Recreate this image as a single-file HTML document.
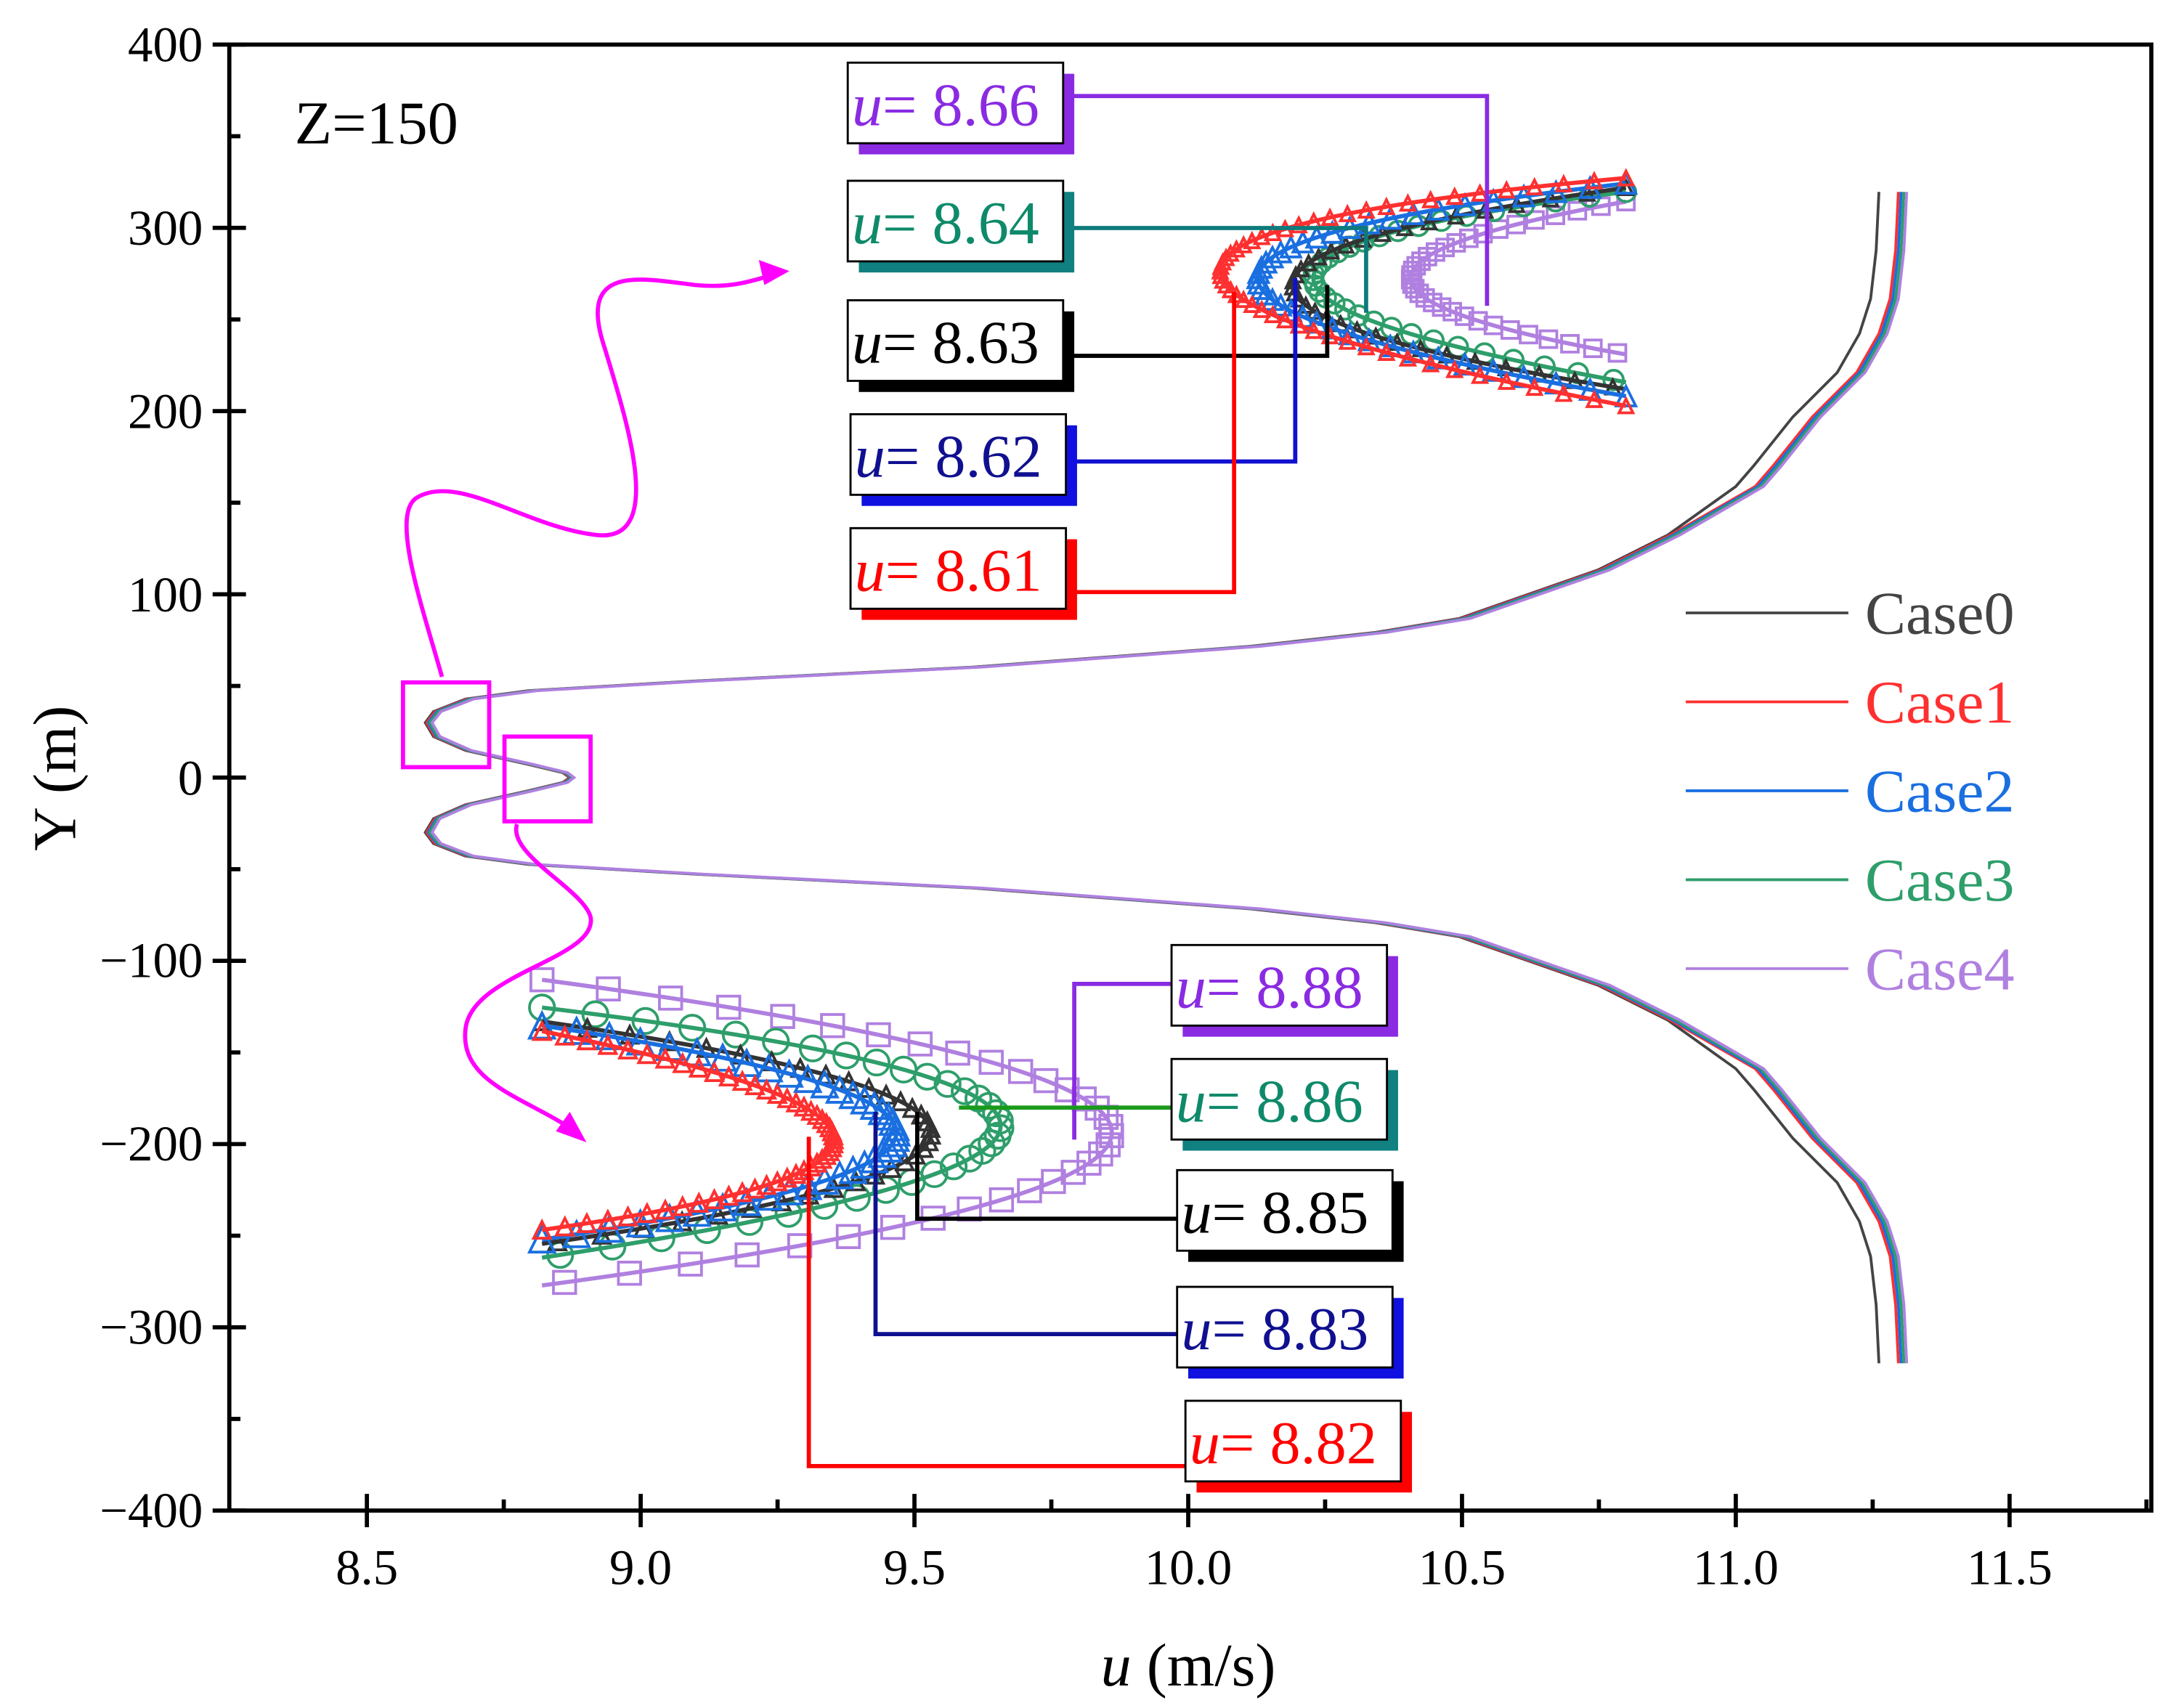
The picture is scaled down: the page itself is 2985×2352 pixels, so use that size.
<!DOCTYPE html>
<html><head><meta charset="utf-8"><style>
html,body{margin:0;padding:0;background:#fff}
svg{display:block}
text{font-family:"Liberation Serif",serif}
</style></head><body>
<svg id="s" width="2985" height="2352" viewBox="0 0 1560 1229" xmlns="http://www.w3.org/2000/svg">
<rect width="1560" height="1229" fill="#fff"/>
<rect x="165" y="32" width="1383" height="1055" fill="none" stroke="#000" stroke-width="3"/>
<g id="ticks" stroke="#000" stroke-width="3"></g>
<g font-size="36" text-anchor="end">
<text x="146" y="44">400</text><text x="146" y="176">300</text><text x="146" y="308">200</text>
<text x="146" y="440">100</text><text x="146" y="572">0</text><text x="146" y="703">−100</text>
<text x="146" y="835">−200</text><text x="146" y="967">−300</text><text x="146" y="1099">−400</text>
</g>
<g font-size="36" text-anchor="middle">
<text x="264" y="1140">8.5</text><text x="461" y="1140">9.0</text><text x="658" y="1140">9.5</text>
<text x="855" y="1140">10.0</text><text x="1052" y="1140">10.5</text><text x="1249" y="1140">11.0</text><text x="1446" y="1140">11.5</text>
</g>
<text x="855" y="1213" font-size="44" text-anchor="middle"><tspan font-style="italic">u</tspan> (m/s)</text>
<text transform="translate(54,560) rotate(-90)" font-size="44" text-anchor="middle">Y (m)</text>
<text x="212" y="103" font-size="44">Z=150</text>

<g id="curves" fill="none" stroke-width="2"></g>
<g id="insets"></g>

<g stroke="#ff00ff" stroke-width="3" fill="none">
<rect x="290" y="491" width="62" height="61"/>
<rect x="363" y="530" width="62" height="61"/>
<path d="M318,487 C305,440 280,370 300,358 C330,340 380,380 430,385 C480,390 450,300 435,250 C415,190 460,200 500,205 C530,208 545,200 560,197"/>
<path d="M372,593 C365,615 420,640 425,660 C430,690 340,700 335,740 C330,780 380,790 415,815"/>
</g>
<path d="M568,195 L546,187 L550,205 Z" fill="#ff00ff"/>
<path d="M422,822 L410,800 L400,814 Z" fill="#ff00ff"/>

<g fill="none" stroke-width="3">
<path d="M765,69 H1070 V220" stroke="#8a2be2"/>
<path d="M765,164 H983 V225" stroke="#0e7b7b"/>
<path d="M765,256 H955 V205" stroke="#000"/>
<path d="M765,332 H932 V200" stroke="#1010d0"/>
<path d="M765,426 H888 V210" stroke="#ff0000"/>
<path d="M843,708 H773 V820" stroke="#8a2be2"/>
<path d="M843,797 H690" stroke="#1a9a1a"/>
<path d="M847,877 H660 V800" stroke="#000"/>
<path d="M847,960 H630 V800" stroke="#101090"/>
<path d="M853,1055 H582 V818" stroke="#ff0000"/>
</g>
<g id="labels"></g>

<g stroke-width="2">
<line x1="1213" y1="441" x2="1330" y2="441" stroke="#444"/>
<line x1="1213" y1="505" x2="1330" y2="505" stroke="#ff3030"/>
<line x1="1213" y1="569" x2="1330" y2="569" stroke="#1a6fe0"/>
<line x1="1213" y1="633" x2="1330" y2="633" stroke="#2e9e6a"/>
<line x1="1213" y1="697" x2="1330" y2="697" stroke="#b080e0"/>
</g>
<g font-size="44">
<text x="1342" y="456" fill="#444">Case0</text>
<text x="1342" y="520" fill="#ff3030">Case1</text>
<text x="1342" y="584" fill="#1a6fe0">Case2</text>
<text x="1342" y="648" fill="#2e9e6a">Case3</text>
<text x="1342" y="712" fill="#b080e0">Case4</text>
</g>
<script>
var NS="http://www.w3.org/2000/svg";
function el(p,t,a){var e=document.createElementNS(NS,t);for(var k in a)e.setAttribute(k,a[k]);p.appendChild(e);return e;}
var T=document.getElementById("ticks");
for(var i=0;i<=16;i++){var y=32+i*1055/16;var maj=i%2==0;el(T,"line",{x1:maj?153:165,y1:y,x2:maj?177:173,y2:y});}
for(var i=0;i<7;i++){var x=264+i*197;el(T,"line",{x1:x,y1:1087,x2:x,y2:1099});el(T,"line",{x1:x,y1:1087,x2:x,y2:1075});
 var xm=x+98.5;if(xm<1548)el(T,"line",{x1:xm,y1:1087,x2:xm,y2:1079});}
var base=[[1352,138],[1350,180],[1346,215],[1338,240],[1322,268],[1290,300],[1262,335],[1249,350],[1200,385],[1150,410],[1050,445],[990,455],[900,465],[700,480],[500,490],[380,497],[335,503],[312,512],[306,520],[312,530],[335,540],[380,550],[405,556],[410,559.5]];
function full(dx,dt){var pts=[];base.forEach(function(p,i){var d=i<8?dt:dx*(1-i/24)+dx*0.3;pts.push([p[0]+d,p[1]]);});
 var out=pts.slice();for(var i=pts.length-2;i>=0;i--)out.push([pts[i][0],1119-pts[i][1]]);return out;}
var C=document.getElementById("curves");
[["#444",0,0],["#ff3030",2,14],["#1a6fe0",4,16],["#2e9e6a",6,18],["#b080e0",9,20]].forEach(function(c){
 var pts=full(c[1],c[2]);el(C,"polyline",{points:pts.map(function(p){return p.join(",")}).join(" "),stroke:c[0]});});
var I=document.getElementById("insets");
function chev(tip,a1,a2,col,mk,sz,sw,step){
 var cx=2*tip[0]-(a1[0]+a2[0])/2, cy=2*tip[1]-(a1[1]+a2[1])/2;
 var d="M"+a1[0]+","+a1[1]+" Q"+cx+","+cy+" "+a2[0]+","+a2[1];
 el(I,"path",{d:d,fill:"none",stroke:col,"stroke-width":sw});
 for(var t=0;t<=1.0001;t+=step){var x=(1-t)*(1-t)*a1[0]+2*t*(1-t)*cx+t*t*a2[0];
  var y=(1-t)*(1-t)*a1[1]+2*t*(1-t)*cy+t*t*a2[1];
  if(mk=="c")el(I,"circle",{cx:x,cy:y,r:sz,fill:"none",stroke:col,"stroke-width":2});
  else if(mk=="s")el(I,"rect",{x:x-sz,y:y-sz,width:2*sz,height:2*sz,fill:"none",stroke:col,"stroke-width":2});
  else el(I,"path",{d:"M"+(x-sz)+","+(y+sz)+" L"+x+","+(y-sz)+" L"+(x+sz)+","+(y+sz)+"Z",fill:"none",stroke:col,"stroke-width":2});}
}
chev([1015,200],[1170,145],[1170,255],"#b080e0","s",6,3,0.03);
chev([945,200],[1170,138],[1170,275],"#2e9e6a","c",7,3,0.03);
chev([930,205],[1170,135],[1170,280],"#333","t",5,3,0.03);
chev([905,200],[1170,132],[1170,285],"#1a6fe0","t",7,3,0.025);
chev([878,195],[1170,128],[1170,292],"#ff3030","t",5,3,0.02);
chev([800,815],[390,705],[390,925],"#b080e0","s",8,3,0.03);
chev([720,810],[390,725],[390,905],"#2e9e6a","c",9,3,0.03);
chev([670,815],[390,735],[390,895],"#333","t",6,3,0.03);
chev([645,815],[390,738],[390,892],"#1a6fe0","t",9,3,0.025);
chev([600,820],[390,742],[390,885],"#ff3030","t",6,3,0.02);
var L=document.getElementById("labels");
[[610,45,"#8a2be2","8.66"],[610,130,"#0e8a6a","8.64","#108080"],[610,216,"#000","8.63"],[612,298,"#101090","8.62","#1010e0"],[612,380,"#ff0000","8.61"],
 [843,680,"#8a2be2","8.88"],[843,762,"#0e8a6a","8.86","#108080"],[847,842,"#000","8.85"],[847,926,"#101090","8.83","#1010e0"],[853,1008,"#ff0000","8.82"]].forEach(function(b){
 var sh=b[4]||b[2];
 el(L,"rect",{x:b[0]+8,y:b[1]+8,width:155,height:58,fill:sh});
 el(L,"rect",{x:b[0],y:b[1],width:155,height:58,fill:"#fff",stroke:"#000","stroke-width":1.5});
 var t=el(L,"text",{x:b[0]+3,y:b[1]+45,"font-size":44,fill:b[2]});
 var ts=el(t,"tspan",{"font-style":"italic"});ts.textContent="u";
 var ts2=el(t,"tspan",{});ts2.textContent="= "+b[3];
});
</script>
</svg>
</body></html>
